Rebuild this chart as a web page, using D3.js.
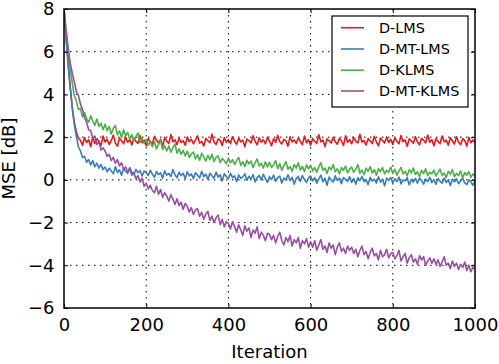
<!DOCTYPE html>
<html>
<head>
<meta charset="utf-8">
<script src="https://cdn.jsdelivr.net/npm/d3@7"></script>
<style>
  html, body { margin: 0; padding: 0; background: #fff; }
  svg { display: block; font-family: "DejaVu Sans", sans-serif; }
</style>
</head>
<body>
<svg id="chart" width="499" height="364"></svg>
<script>
// ---- data (sampled every 5 iterations, 0..1000) ----
const step = 5;
const seriesNames = ["D-LMS", "D-MT-LMS", "D-KLMS", "D-MT-KLMS"];
const seriesColors = ["#e41a1c", "#377eb8", "#4daf4a", "#984ea3"];
const xTicks = [0, 200, 400, 600, 800, 1000];
const yTicks = [-6, -4, -2, 0, 2, 4, 6, 8];

const dLMS = [
  8.0, 6.7, 5.5, 4.4, 3.4, 2.7, 2.25, 1.95, 1.85,
  1.62, 1.98, 1.75, 1.88, 1.55, 2.02, 1.7, 1.92, 1.81, 1.6, 2.05,
  1.77, 1.9, 1.66, 1.84, 2.1, 1.72, 1.58, 1.95, 1.83, 1.69, 2.0, 1.76, 1.89, 1.63, 1.97, 1.8, 1.71, 2.08, 1.74, 1.86,
  1.6, 1.93, 1.79, 1.68, 2.04, 1.85, 1.73, 1.9, 1.57, 1.99, 1.82, 1.7, 2.12, 1.78, 1.88, 1.65, 1.96, 1.75, 1.84, 1.62,
  2.01, 1.79, 1.9, 1.69, 1.87, 2.06, 1.72, 1.8, 1.59, 1.94, 1.83, 1.74, 2.15, 1.77, 1.66, 1.92, 1.85, 1.61, 1.98, 1.76,
  1.89, 1.7, 2.03, 1.81, 1.67, 1.95, 1.78, 1.86, 1.55, 1.91, 1.84, 1.73, 2.07, 1.8, 1.64, 1.97, 1.76, 1.88, 1.69, 2.0,
  1.82, 1.6, 1.93, 1.75, 2.09, 1.79, 1.68, 1.9, 1.83, 1.58, 2.02, 1.77, 1.87, 1.71, 1.96, 1.8, 1.65, 2.05, 1.74, 1.89,
  1.62, 1.94, 1.81, 1.7, 2.11, 1.78, 1.86, 1.56, 1.92, 1.84, 1.72, 2.0, 1.79, 1.67, 1.95, 1.83, 1.61, 2.06, 1.76, 1.88,
  1.69, 1.99, 1.8, 1.73, 2.13, 1.77, 1.85, 1.63, 1.93, 1.82, 1.7, 2.04, 1.78, 1.59, 1.96, 1.84, 1.72, 2.01, 1.75, 1.9,
  1.66, 1.97, 1.81, 1.69, 2.08, 1.79, 1.87, 1.57, 1.92, 1.83, 1.71, 2.03, 1.77, 1.64, 1.95, 1.85, 1.73, 2.1, 1.76, 1.88,
  1.6, 1.94, 1.8, 1.7, 2.05, 1.78, 1.86, 1.62, 1.98, 1.82, 1.68, 2.02, 1.76, 1.65, 1.93, 1.84, 1.58, 1.99, 1.74, 1.87, 1.72
];

const dMTLMS = [
  8.0, 6.6, 5.4, 4.3, 3.4, 2.6, 2.05, 1.55, 1.35, 1.05, 1.1, 0.82, 0.95, 0.7, 0.9, 0.62, 0.78, 0.55, 0.72, 0.48,
  0.6, 0.38, 0.55, 0.42, 0.28, 0.62, 0.35, 0.47, 0.22, 0.53, 0.4, 0.3, 0.58, 0.36, 0.25, 0.49, 0.33, 0.44, 0.18, 0.41,
  0.35, 0.2, 0.45, 0.27, 0.12, 0.39, 0.25, 0.33, 0.08, 0.42, 0.22, 0.3, 0.15, 0.48, 0.24, 0.1, 0.36, 0.2, 0.31, 0.05,
  0.38, 0.18, 0.28, 0.06, 0.33, 0.22, 0.1, 0.4, 0.15, 0.27, 0.02, 0.31, 0.19, 0.08, 0.36, 0.13, 0.24, -0.05, 0.29, 0.16,
  0.05, 0.3, 0.1, 0.19, -0.08, 0.23, 0.07, 0.14, 0.28, -0.02, 0.17, 0.04, 0.25, -0.1, 0.12, 0.2, 0.0, 0.26, 0.06, -0.12,
  0.15, 0.02, 0.22, -0.06, 0.1, 0.18, -0.15, 0.08, 0.0, 0.24, -0.04, 0.12, -0.2, 0.06, 0.16, -0.08, 0.2, 0.01, -0.12, 0.09,
  0.18, -0.05, 0.1, -0.16, 0.04, 0.22, -0.09, 0.07, -0.25, 0.13, 0.0, -0.1, 0.19, -0.03, 0.08, -0.18, 0.11, 0.02, -0.07, 0.15,
  -0.12, 0.06, -0.2, 0.1, -0.04, 0.17, -0.09, 0.0, -0.22, 0.12, -0.06, 0.04, -0.15, 0.14, -0.1, 0.03, -0.28, 0.08, -0.02, 0.11,
  -0.14, 0.05, -0.08, 0.13, -0.19, 0.0, -0.05, 0.1, -0.24, 0.02, -0.11, 0.07, -0.16, 0.09, -0.03, -0.2, 0.04, -0.09, 0.12, -0.13,
  0.01, -0.21, 0.06, -0.07, -0.15, 0.08, -0.12, -0.01, -0.26, 0.03, -0.09, 0.05, -0.18, -0.04, 0.07, -0.14, -0.22, 0.0, -0.1, -0.25, -0.06
];

const dKLMS = [
  8.0, 7.0, 6.0, 5.2, 4.55, 3.95, 3.7, 3.3, 3.35, 2.95, 3.15, 2.85, 2.7, 3.0, 2.75, 2.55, 2.85, 2.5, 2.65, 2.35,
  2.6, 2.3, 2.5, 2.15, 2.42, 2.55, 2.1, 2.3, 1.98, 2.35, 2.05, 2.22, 1.9, 2.12, 1.82, 2.05, 2.2, 1.75, 1.95, 1.7,
  1.9, 1.62, 1.8, 1.55, 1.78, 1.45, 1.66, 1.85, 1.42, 1.6, 1.35, 1.58, 1.3, 1.5, 1.68, 1.25, 1.45, 1.2, 1.38, 1.12,
  1.35, 1.05, 1.22, 1.3, 0.98, 1.18, 0.92, 1.25, 1.06, 0.88, 1.15, 0.95, 1.2, 0.85, 1.05, 1.12, 0.8, 1.0, 0.9, 0.75,
  1.02, 0.8, 0.95, 0.72, 0.9, 1.05, 0.68, 0.85, 0.62, 0.92, 0.75, 0.88, 0.58, 0.8, 0.98, 0.65, 0.78, 0.55, 0.85, 0.6,
  0.82, 0.58, 0.7, 0.9, 0.52, 0.75, 0.45, 0.68, 0.85, 0.5, 0.62, 0.4, 0.72, 0.55, 0.8, 0.46, 0.63, 0.38, 0.7, 0.52,
  0.68, 0.42, 0.58, 0.35, 0.62, 0.8, 0.45, 0.55, 0.3, 0.6, 0.48, 0.72, 0.38, 0.52, 0.28, 0.58, 0.44, 0.65, 0.33, 0.5,
  0.6, 0.35, 0.5, 0.72, 0.3, 0.46, 0.25, 0.55, 0.4, 0.62, 0.32, 0.48, 0.22, 0.52, 0.38, 0.58, 0.28, 0.45, 0.35, 0.6,
  0.3, 0.5, 0.22, 0.42, 0.58, 0.28, 0.4, 0.18, 0.48, 0.32, 0.55, 0.25, 0.38, 0.15, 0.45, 0.3, 0.52, 0.2, 0.36, 0.28,
  0.45, 0.18, 0.35, 0.5, 0.22, 0.32, 0.1, 0.4, 0.26, 0.48, 0.15, 0.3, 0.2, 0.42, 0.08, 0.34, 0.22, 0.38, 0.12, 0.28, 0.18
];

const dMTKLMS = [
  8.0, 7.0, 6.2, 5.5, 5.0, 4.6, 4.15, 3.95, 3.55, 3.3, 2.9, 2.7, 2.35, 2.3, 1.95, 2.05, 1.65, 1.8, 1.4, 1.5,
  1.35, 1.1, 1.2, 0.9, 1.05, 0.78, 0.95, 0.65, 0.8, 0.5, 0.6, 0.38, 0.52, 0.22, 0.35, 0.05, 0.2, -0.1, 0.08, -0.3,
  -0.15, -0.42, -0.25, -0.5, -0.6, -0.3, -0.68, -0.45, -0.82, -0.6, -0.75, -1.0, -0.7, -0.9, -1.15, -0.88, -1.2, -1.05, -1.38, -1.1,
  -1.25, -1.5, -1.3, -1.62, -1.4, -1.35, -1.7, -1.52, -1.85, -1.6, -1.48, -1.9, -1.7, -2.0, -1.78, -1.65, -2.1, -1.85, -2.2, -1.95,
  -2.05, -2.3, -1.95, -2.2, -2.45, -2.1, -2.35, -2.6, -2.15, -2.4, -2.25, -2.7, -2.35, -2.5, -2.2, -2.75, -2.45, -2.6, -2.85, -2.5,
  -2.55, -2.8, -2.6, -2.95, -2.65, -2.45, -2.85, -3.05, -2.7, -2.9, -2.6, -3.1, -2.8, -2.95, -2.7, -3.2, -2.85, -3.0, -2.75, -3.15,
  -2.9, -3.15, -2.85, -3.3, -3.05, -2.8, -3.25, -3.1, -3.4, -2.95, -3.2, -3.05, -3.5, -3.15, -2.95, -3.35, -3.2, -3.45, -3.1, -3.3,
  -3.15, -3.45, -3.25, -3.6, -3.3, -3.1, -3.5, -3.35, -3.7, -3.4, -3.2, -3.55, -3.45, -3.75, -3.3, -3.6, -3.5, -3.25, -3.65, -3.45,
  -3.4, -3.7, -3.55, -3.3, -3.8, -3.6, -3.45, -3.9, -3.65, -3.5, -3.85, -3.7, -3.95, -3.55, -3.75, -3.6, -4.0, -3.8, -3.65, -3.9,
  -3.7, -3.95, -3.75, -4.05, -3.85, -3.6, -4.0, -3.9, -4.15, -3.8, -4.05, -3.9, -4.2, -3.95, -4.1, -3.85, -4.25, -4.0, -4.3, -4.1, -4.2
];

const seriesValues = [dLMS, dMTLMS, dKLMS, dMTKLMS];

// ---- layout ----
const pL = 64, pR = 475, pT = 9, pB = 308;
const tickFont = "18px", labelFont = "18px", legendFont = "14.4px";
const svg = d3.select("#chart");

const x = d3.scaleLinear().domain([0, 1000]).range([pL, pR]);
const y = d3.scaleLinear().domain([-6, 8]).range([pB, pT]);

svg.append("defs").append("clipPath").attr("id", "plotclip")
  .append("rect").attr("x", pL).attr("y", pT).attr("width", pR - pL).attr("height", pB - pT);

// grid
const grid = svg.append("g");
grid.selectAll("line.gx").data(xTicks.slice(1, -1)).enter().append("line")
  .attr("x1", d => x(d)).attr("x2", d => x(d)).attr("y1", pT).attr("y2", pB)
  .attr("stroke", "#000").attr("stroke-width", 1).attr("stroke-dasharray", "1.5,4.5");
grid.selectAll("line.gy").data(yTicks.slice(1, -1)).enter().append("line")
  .attr("x1", pL).attr("x2", pR).attr("y1", d => y(d)).attr("y2", d => y(d))
  .attr("stroke", "#000").attr("stroke-width", 1).attr("stroke-dasharray", "1.5,4.5");

// lines
const line = d3.line().x((d, i) => x(i * step)).y(d => y(d));
const lines = svg.append("g").attr("clip-path", "url(#plotclip)");
seriesValues.forEach((vals, k) => {
  lines.append("path").datum(vals).attr("d", line)
    .attr("fill", "none").attr("stroke", seriesColors[k]).attr("stroke-width", 1.6)
    .attr("stroke-linejoin", "round");
});

// axes (inward ticks, labels)
const fmt = d => d < 0 ? "\u2212" + Math.abs(d) : String(d);
const xAxis = d3.axisBottom(x).tickValues(xTicks).tickSizeInner(-4).tickSizeOuter(0).tickPadding(10).tickFormat(fmt);
const yAxis = d3.axisLeft(y).tickValues(yTicks).tickSizeInner(-4).tickSizeOuter(0).tickPadding(9.5).tickFormat(fmt);
const xTop = d3.axisTop(x).tickValues(xTicks).tickSizeInner(-4).tickSizeOuter(0).tickFormat("");
const yRight = d3.axisRight(y).tickValues(yTicks).tickSizeInner(-4).tickSizeOuter(0).tickFormat("");

function styleAxis(g) {
  g.select(".domain").remove();
  g.selectAll(".tick line").attr("stroke", "#000").attr("stroke-width", 1);
  g.selectAll(".tick text").attr("fill", "#000").style("font-size", tickFont).style("font-family", "DejaVu Sans, sans-serif");
}
svg.append("g").attr("transform", `translate(0,${pB})`).call(xAxis).call(styleAxis);
svg.append("g").attr("transform", `translate(${pL},0)`).call(yAxis).call(styleAxis);
svg.append("g").attr("transform", `translate(0,${pT})`).call(xTop).call(styleAxis);
svg.append("g").attr("transform", `translate(${pR},0)`).call(yRight).call(styleAxis);

// frame
svg.append("rect").attr("x", pL).attr("y", pT).attr("width", pR - pL).attr("height", pB - pT)
  .attr("fill", "none").attr("stroke", "#000").attr("stroke-width", 1.5);

// axis labels
svg.append("text").attr("x", (pL + pR) / 2).attr("y", 358)
  .attr("text-anchor", "middle").style("font-size", labelFont).text("Iteration");
svg.append("text").attr("transform", `translate(14.5,${(pT + pB) / 2}) rotate(-90)`)
  .attr("text-anchor", "middle").style("font-size", labelFont).text("MSE [dB]");

// legend
const lg = svg.append("g");
lg.append("rect").attr("x", 332).attr("y", 16).attr("width", 136).attr("height", 91)
  .attr("fill", "#fff").attr("stroke", "#000").attr("stroke-width", 1.2);
const rowsY = [27.7, 49, 70.2, 91];
seriesNames.forEach((name, k) => {
  lg.append("line").attr("x1", 341).attr("x2", 364).attr("y1", rowsY[k]).attr("y2", rowsY[k])
    .attr("stroke", seriesColors[k]).attr("stroke-width", 1.6);
  lg.append("text").attr("x", 379).attr("y", rowsY[k]).attr("dy", "0.36em")
    .style("font-size", legendFont).text(name);
});
</script>
</body>
</html>
